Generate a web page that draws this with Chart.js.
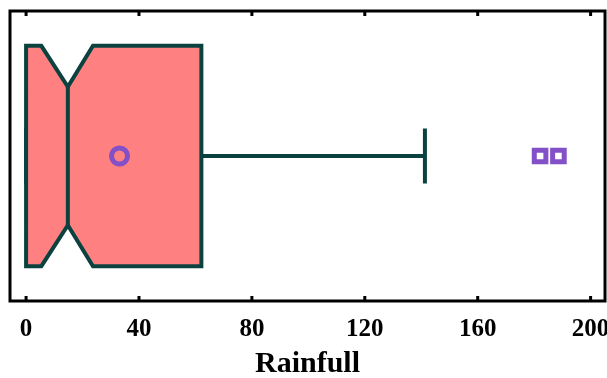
<!DOCTYPE html>
<html>
<head>
<meta charset="utf-8">
<script src="https://cdn.jsdelivr.net/npm/chart.js@4"></script>
<style>
  html, body { margin: 0; padding: 0; background: #fff; }
  #wrap { width: 607px; height: 378px; }
</style>
</head>
<body>
<div id="wrap"><canvas id="chart" width="607" height="378"></canvas></div>
<script>
// data
const category = 'Rainfull';
const quartiles = [0, 14.8, 62.1];      // q1 (box start), median, q3
const notch = [5.4, 23.7];              // notch low / high
const whiskers = [0, 141.3];            // lower / upper whisker
const meanValue = [33.1];
const outliers = [182.1, 188.6];
const xTicks = [0, 40, 80, 120, 160, 200];

// styles
const boxFill = '#FF8080';
const boxLine = '#0B4240';
const purple = '#8350C8';
const boxHalf = 0.76, notchHalf = 0.477, capHalf = 0.19;

const boxPlugin = {
    id: 'notchedBox',
    beforeDatasetsDraw(chart) {
        const ctx = chart.ctx;
        const x = chart.scales.x, y = chart.scales.y;
        const px = v => x.getPixelForValue(v);
        const py = v => y.getPixelForValue(v);
        ctx.save();
        ctx.lineWidth = 4;
        ctx.strokeStyle = boxLine;
        ctx.lineJoin = 'miter';
        // whisker lines
        ctx.beginPath();
        ctx.moveTo(px(quartiles[2]), py(0));
        ctx.lineTo(px(whiskers[1]), py(0));
        ctx.moveTo(px(whiskers[1]), py(capHalf));
        ctx.lineTo(px(whiskers[1]), py(-capHalf));
        ctx.moveTo(px(whiskers[0]), py(capHalf));
        ctx.lineTo(px(whiskers[0]), py(-capHalf));
        ctx.stroke();
        // notched box
        ctx.beginPath();
        ctx.moveTo(px(quartiles[0]), py(boxHalf));
        ctx.lineTo(px(notch[0]), py(boxHalf));
        ctx.lineTo(px(quartiles[1]), py(notchHalf));
        ctx.lineTo(px(notch[1]), py(boxHalf));
        ctx.lineTo(px(quartiles[2]), py(boxHalf));
        ctx.lineTo(px(quartiles[2]), py(-boxHalf));
        ctx.lineTo(px(notch[1]), py(-boxHalf));
        ctx.lineTo(px(quartiles[1]), py(-notchHalf));
        ctx.lineTo(px(notch[0]), py(-boxHalf));
        ctx.lineTo(px(quartiles[0]), py(-boxHalf));
        ctx.closePath();
        ctx.fillStyle = boxFill;
        ctx.fill();
        ctx.stroke();
        // median line
        ctx.beginPath();
        ctx.moveTo(px(quartiles[1]), py(notchHalf));
        ctx.lineTo(px(quartiles[1]), py(-notchHalf));
        ctx.stroke();
        ctx.restore();
    },
    afterDraw(chart) {
        const ctx = chart.ctx;
        const a = chart.chartArea;
        const x = chart.scales.x;
        ctx.save();
        ctx.strokeStyle = '#000';
        ctx.lineWidth = 3;
        // inward ticks, top and bottom
        ctx.beginPath();
        xTicks.forEach(v => {
            const p = x.getPixelForValue(v);
            ctx.moveTo(p, a.bottom);
            ctx.lineTo(p, a.bottom - 5);
            ctx.moveTo(p, a.top);
            ctx.lineTo(p, a.top + 5);
        });
        ctx.stroke();
        ctx.strokeRect(a.left, a.top, a.right - a.left, a.bottom - a.top);
        ctx.restore();
    }
};

new Chart(document.getElementById('chart'), {
    type: 'scatter',
    data: {
        datasets: [
            {
                label: 'Mean',
                data: meanValue.map(v => ({ x: v, y: 0 })),
                pointStyle: 'circle',
                pointRadius: 8,
                borderWidth: 5,
                borderColor: purple,
                backgroundColor: 'rgba(0,0,0,0)'
            },
            {
                label: 'Outliers',
                data: outliers.map(v => ({ x: v, y: 0 })),
                pointStyle: 'rect',
                pointRadius: 8.2,
                borderWidth: 5,
                borderColor: purple,
                backgroundColor: '#fff'
            }
        ]
    },
    options: {
        responsive: false,
        animation: false,
        layout: { autoPadding: false, padding: { left: 10, top: 11, right: 2, bottom: 0 } },
        plugins: { legend: { display: false }, tooltip: { enabled: false } },
        scales: {
            x: {
                type: 'linear',
                min: -5.7,
                max: 205.1,
                afterBuildTicks: s => { s.ticks = xTicks.map(v => ({ value: v })); },
                afterFit: s => { s.paddingLeft = 0; s.paddingRight = 0; s.height = 77; },
                grid: { display: false, drawTicks: false },
                border: { display: false },
                ticks: {
                    padding: 14,
                    color: '#000',
                    maxRotation: 0,
                    font: { family: 'Liberation Serif', size: 25, weight: 'bold' }
                },
                title: {
                    display: true,
                    text: category,
                    color: '#000',
                    padding: { top: 0, bottom: 0 },
                    font: { family: 'Liberation Serif', size: 30, weight: 'bold', lineHeight: 0.9 }
                }
            },
            y: {
                display: false,
                min: -1,
                max: 1
            }
        }
    },
    plugins: [boxPlugin]
});
</script>
</body>
</html>
